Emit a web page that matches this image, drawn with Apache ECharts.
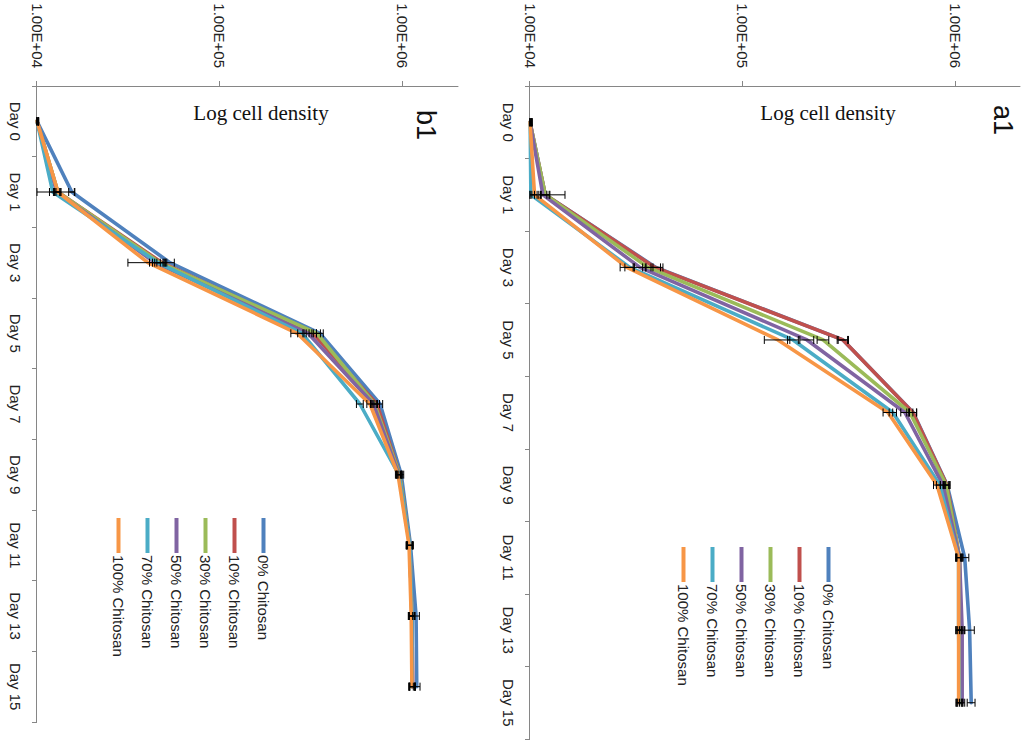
<!DOCTYPE html>
<html>
<head>
<meta charset="utf-8">
<script src="https://cdn.jsdelivr.net/npm/echarts@6/dist/echarts.min.js"></script>
<style>
html,body{margin:0;padding:0;width:1028px;height:742px;overflow:hidden;background:#ffffff;}
#chart{position:absolute;left:0;top:0;width:742px;height:1028px;transform-origin:0 0;transform:translate(1028px,0) rotate(90deg);}
</style>
</head>
<body>
<div id="chart"></div>
<script>
// ---------- data ----------
const days = ['Day 0','Day 1','Day 3','Day 5','Day 7','Day 9','Day 11','Day 13','Day 15'];
const seriesNames = ['0% Chitosan','10% Chitosan','30% Chitosan','50% Chitosan','70% Chitosan','100% Chitosan'];
const seriesColors = ['#4F81BD','#C0504D','#9BBB59','#8064A2','#4BACC6','#F79646'];
const valueTicks = [1e4, 1e5, 1e6];
const valueTickLabels = ['1.00E+04','1.00E+05','1.00E+06'];
const panelTitles = ['a1','b1'];
const axisTitle = 'Log cell density';

// panel a1 : mean cell density
const a1_0   = [10000, 11800, 39000, 295000, 630000, 910000, 1100000, 1160000, 1180000];
const a1_10  = [10000, 11800, 38600, 295000, 628000, 907000, 1040000, 1040000, 1040000];
const a1_30  = [10000, 11800, 35800, 238000, 608000, 900000, 1040000, 1050000, 1050000];
const a1_50  = [10000, 11500, 32800, 200000, 576000, 870000, 1040000, 1070000, 1070000];
const a1_70  = [10000, 10100, 29400, 172000, 506000, 840000, 1030000, 1030000, 1040000];
const a1_100 = [10000, 10500, 28500, 146000, 480000, 815000, 1030000, 1030000, 1030000];
// panel a1 : error (±)
const a1_0_err   = [200,  500, 2000, 15000, 25000, 30000, 50000, 60000, 50000];
const a1_10_err  = [200, 2800, 3500, 18000, 25000, 25000, 40000, 30000, 30000];
const a1_30_err  = [200,  600, 2000, 15000, 20000, 25000, 30000, 30000, 30000];
const a1_50_err  = [200,  500, 2000, 15000, 25000, 25000, 30000, 30000, 30000];
const a1_70_err  = [200,  400, 1500, 10000, 20000, 30000, 30000, 30000, 30000];
const a1_100_err = [200,  300, 2000, 20000, 25000, 30000, 30000, 30000, 30000];

// panel b1 : mean cell density
const b1_0   = [10000, 15500, 53300, 352000, 750000, 980000, 1100000, 1180000, 1190000];
const b1_10  = [10000, 13000, 48200, 322000, 720000, 960000, 1090000, 1120000, 1130000];
const b1_30  = [10000, 13000, 47000, 339000, 700000, 960000, 1090000, 1120000, 1120000];
const b1_50  = [10000, 12800, 44200, 303000, 690000, 950000, 1090000, 1120000, 1130000];
const b1_70  = [10000, 12200, 45800, 281000, 582000, 950000, 1090000, 1120000, 1120000];
const b1_100 = [10000, 13000, 40400, 264000, 660000, 940000, 1080000, 1110000, 1120000];
// panel b1 : error (±)
const b1_0_err   = [200,  600, 3000, 15000, 25000, 30000, 40000, 50000, 50000];
const b1_10_err  = [200,  500, 3000, 15000, 25000, 30000, 40000, 40000, 40000];
const b1_30_err  = [200,  500, 3000, 15000, 25000, 30000, 40000, 40000, 40000];
const b1_50_err  = [200,  500, 3000, 15000, 25000, 30000, 40000, 40000, 40000];
const b1_70_err  = [200,  500, 3000, 15000, 25000, 30000, 40000, 40000, 40000];
const b1_100_err = [200, 3000, 9000, 20000, 25000, 30000, 40000, 40000, 40000];

const panels = [
  { means: [a1_0, a1_10, a1_30, a1_50, a1_70, a1_100], errs: [a1_0_err, a1_10_err, a1_30_err, a1_50_err, a1_70_err, a1_100_err] },
  { means: [b1_0, b1_10, b1_30, b1_50, b1_70, b1_100], errs: [b1_0_err, b1_10_err, b1_30_err, b1_50_err, b1_70_err, b1_100_err] }
];

// ---------- layout (unrotated frame, 742 x 1028, rotated 90deg clockwise by CSS) ----------
const SANS = '"Liberation Sans", Arial, sans-serif';
const SERIF = '"Liberation Serif", "Times New Roman", serif';
const axisGray = '#868686';
const grids = [
  { left: 86, top: 8,   width: 653, height: 490 },
  { left: 86, top: 570, width: 636, height: 421 }
];
const legendPos = [ { left: 547, top: 192 }, { left: 518, top: 757 } ];
const titlePos = [ { x: 105, y: 12 }, { x: 110, y: 589 } ];
const axisTitlePos = [ { x: 113, y: 200 }, { x: 113, y: 767 } ];

const xAxes = [], yAxes = [], series = [], legends = [], graphics = [];

function fmtTick(v) {
  const e = Math.log10(v);
  if (Math.abs(e - Math.round(e)) > 0.01) return '';
  const i = valueTicks.findIndex(t => Math.abs(Math.log10(t) - e) < 0.01);
  return i >= 0 ? valueTickLabels[i] : '';
}

panels.forEach((p, gi) => {
  xAxes.push({
    gridIndex: gi, type: 'category', data: days, boundaryGap: true,
    axisLine: { show: true, lineStyle: { color: axisGray, width: 1 } },
    axisTick: { show: true, length: 5, interval: 0, lineStyle: { color: axisGray } },
    axisLabel: { interval: 0, margin: 14, fontSize: 15, fontFamily: SANS, color: '#222' },
    splitLine: { show: false }
  });
  yAxes.push({
    gridIndex: gi, type: 'log', logBase: 10, min: 1e4, max: 2e6,
    axisLine: { show: true, lineStyle: { color: axisGray, width: 1 } },
    axisTick: { show: true, length: 5, lineStyle: { color: axisGray }, customValues: valueTicks },
    axisLabel: { margin: 18, fontSize: 15, fontFamily: SANS, color: '#222', customValues: valueTicks, formatter: fmtTick },
    splitLine: { show: false }
  });
  p.means.forEach((arr, si) => {
    series.push({
      type: 'line', name: seriesNames[si], xAxisIndex: gi, yAxisIndex: gi,
      data: arr, showSymbol: false, symbol: 'none', smooth: false,
      lineStyle: { color: seriesColors[si], width: 3.6, cap: 'round', join: 'round' },
      itemStyle: { color: seriesColors[si] },
      emphasis: { disabled: true }, animation: false, z: 2
    });
  });
  p.means.forEach((arr, si) => {
    const errArr = p.errs[si];
    series.push({
      type: 'custom', name: seriesNames[si] + ' error', xAxisIndex: gi, yAxisIndex: gi,
      data: arr.map((m, i) => [i, m, errArr[i]]),
      renderItem: function (params, api) {
        const idx = api.value(0), m = api.value(1), e = api.value(2);
        const lo = Math.max(m - e, 1e4), hi = Math.min(m + e, 2e6);
        const p1 = api.coord([idx, lo]), p2 = api.coord([idx, hi]);
        const cap = 4;
        const st = { stroke: '#000', lineWidth: 1 };
        return { type: 'group', children: [
          { type: 'line', shape: { x1: p1[0], y1: p1[1], x2: p2[0], y2: p2[1] }, style: st },
          { type: 'line', shape: { x1: p1[0] - cap, y1: p1[1], x2: p1[0] + cap, y2: p1[1] }, style: st },
          { type: 'line', shape: { x1: p2[0] - cap, y1: p2[1], x2: p2[0] + cap, y2: p2[1] }, style: st }
        ]};
      },
      silent: true, animation: false, z: 3
    });
  });
  legends.push({
    data: seriesNames, orient: 'vertical', left: legendPos[gi].left, top: legendPos[gi].top,
    itemWidth: 35, itemHeight: 4, icon: 'rect', itemGap: 14, padding: 0, selectedMode: false,
    textStyle: { fontSize: 15, fontFamily: SANS, color: '#222', padding: [0, 0, 0, -3] }
  });
  graphics.push({
    type: 'text', x: titlePos[gi].x, y: titlePos[gi].y,
    style: { text: panelTitles[gi], font: '27px ' + SANS, fill: '#111', textAlign: 'left', textVerticalAlign: 'top' }
  });
  graphics.push({
    type: 'text', x: axisTitlePos[gi].x, y: axisTitlePos[gi].y, rotation: Math.PI / 2,
    style: { text: axisTitle, font: '21px ' + SERIF, fill: '#111', textAlign: 'center', textVerticalAlign: 'middle' }
  });
});

const chart = echarts.init(document.getElementById('chart'), null, { renderer: 'svg', width: 742, height: 1028 });
chart.setOption({
  animation: false,
  backgroundColor: '#ffffff',
  grid: grids,
  xAxis: xAxes,
  yAxis: yAxes,
  legend: legends,
  series: series,
  graphic: graphics
});
</script>
</body>
</html>
